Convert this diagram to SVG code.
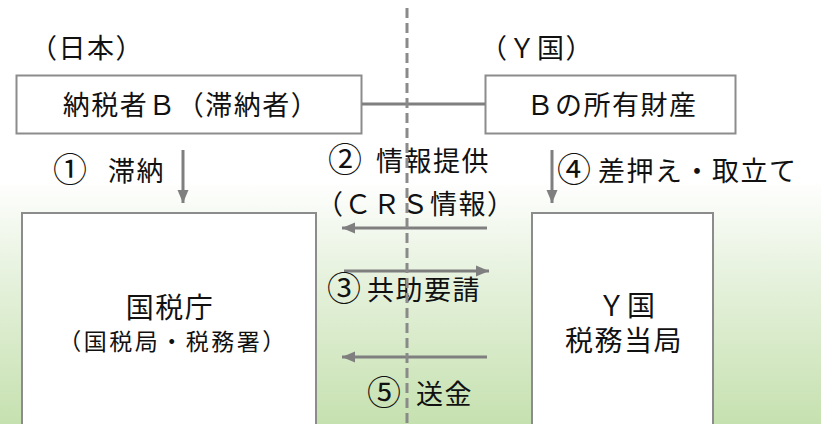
<svg xmlns="http://www.w3.org/2000/svg" width="821" height="424" viewBox="0 0 821 424">
<defs>
<linearGradient id="bg" gradientUnits="userSpaceOnUse" x1="0" y1="180" x2="0" y2="424">
<stop offset="0" stop-color="#ffffff"/>
<stop offset="0.35" stop-color="#e9f3e1"/>
<stop offset="1" stop-color="#c6e1b0"/>
</linearGradient>
<marker id="ah" markerUnits="userSpaceOnUse" markerWidth="14" markerHeight="14" viewBox="0 0 14 14" refX="13" refY="7" orient="auto">
<path d="M0,1.5 L13,7 L0,12.5 Z" fill="#7f7f7f"/>
</marker>
<style>
text{font-family:"Noto Sans CJK JP","Noto Sans",sans-serif;fill:#111;}
.lbl{font-size:27px;letter-spacing:1.5px;}
.num{font-size:34px;letter-spacing:0;}
.box{fill:#fff;stroke:#8c8c8c;stroke-width:2;}
.conn{stroke:#7f7f7f;stroke-width:3;fill:none;}
.arr{stroke:#7f7f7f;stroke-width:3;fill:none;marker-end:url(#ah);}
.dash{stroke:#8a8a8a;stroke-width:3;stroke-dasharray:10 5;fill:none;}
</style>
</defs>
<rect x="0" y="0" width="821" height="424" fill="url(#bg)"/>
<g id="label-japan"><text class="lbl" x="87" y="58" text-anchor="middle">（日本）</text></g>
<g id="label-y"><text class="lbl" x="537" y="58" text-anchor="middle">（Ｙ国）</text></g>
<g id="node-taxpayer">
<rect class="box" x="16.5" y="75.5" width="345" height="58"/>
<text class="lbl" x="191" y="115" text-anchor="middle">納税者Ｂ（滞納者）</text>
</g>
<g id="node-property">
<rect class="box" x="485.5" y="75.5" width="250" height="58"/>
<text class="lbl" x="612" y="115" text-anchor="middle">Ｂの所有財産</text>
</g>
<g id="node-nta">
<rect class="box" x="22" y="213" width="294" height="230"/>
<text class="lbl" x="170" y="318" text-anchor="middle" style="font-size:28px">国税庁</text>
<text x="173" y="350" text-anchor="middle" style="font-size:23px;letter-spacing:2.5px">（国税局・税務署）</text>
</g>
<g id="node-ytax">
<rect class="box" x="532" y="213" width="181" height="230"/>
<text class="lbl" x="627" y="316" text-anchor="middle" style="font-size:28px">Ｙ国</text>
<text class="lbl" x="624" y="351" text-anchor="middle" style="font-size:28px">税務当局</text>
</g>
<g id="connectors">
<line class="conn" x1="362" y1="104" x2="485" y2="104"/>
<line class="arr" x1="183" y1="150" x2="183" y2="203"/>
<line class="arr" x1="552" y1="150" x2="552" y2="203"/>
<line class="arr" x1="487" y1="228" x2="342" y2="228"/>
<line class="arr" x1="344" y1="271" x2="489" y2="271"/>
<line class="arr" x1="487" y1="357" x2="342" y2="357"/>
</g>
<g id="edge-labels">
<text class="lbl" y="182"><tspan class="num" x="53">①</tspan><tspan x="108" y="181">滞納</tspan></text>
<text class="lbl" y="172"><tspan class="num" x="328">②</tspan><tspan x="376" y="171">情報提供</tspan></text>
<text class="lbl" x="316" y="214">（ＣＲＳ情報）</text>
<text class="lbl" y="301"><tspan class="num" x="327">③</tspan><tspan x="367" y="300">共助要請</tspan></text>
<text class="lbl" y="182"><tspan class="num" x="557">④</tspan><tspan x="598" y="181">差押え・取立て</tspan></text>
<text class="lbl" y="405"><tspan class="num" x="367">⑤</tspan><tspan x="416" y="404">送金</tspan></text>
</g>
<line class="dash" x1="407" y1="8" x2="407" y2="424"/>
</svg>
